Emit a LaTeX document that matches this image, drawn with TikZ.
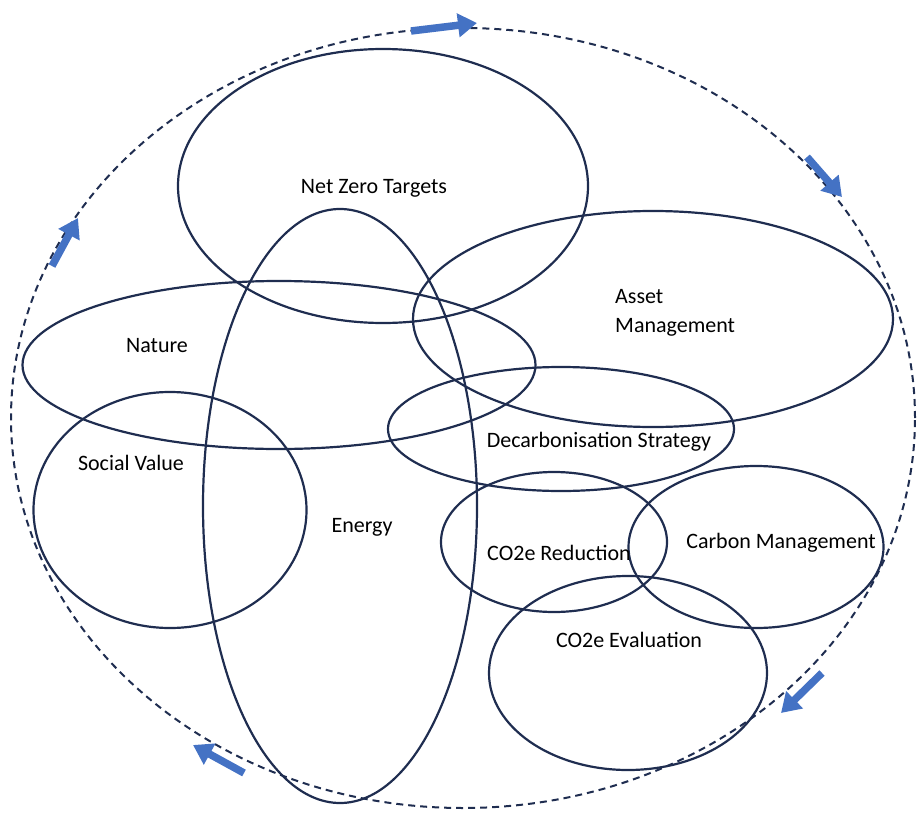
\documentclass[tikz,border=0pt]{standalone}
\usepackage{fontspec}
\setmainfont{Carlito}
\usetikzlibrary{shapes.geometric,arrows.meta}
\definecolor{navy}{HTML}{1F2D50}
\definecolor{arrowblue}{HTML}{4472C4}
\tikzset{
  ring/.style={draw=navy, line width=2.2pt, ellipse, inner sep=0pt},
  outer/.style={draw=navy, line width=2pt, ellipse, inner sep=0pt, dash pattern=on 7pt off 5pt},
  lbl/.style={font=\fontsize{22}{29}\selectfont, text=black, inner sep=0pt},
  flow/.style={draw=arrowblue, line width=7.5pt, -{Triangle[length=19pt,width=23pt]}}
}
\begin{document}
\begin{tikzpicture}[x=1pt,y=-1pt]
\useasboundingbox (0,0) rectangle (923,832);
% outer dashed cycle
\node[outer, minimum width=904pt, minimum height=780pt] (cycle) at (463,418) {};
% ellipses
\node[ring, minimum width=410pt, minimum height=274pt] (nzt) at (383,186) {};
\node[ring, minimum width=274pt, minimum height=594pt] (energy) at (340,506) {};
\node[ring, minimum width=480pt, minimum height=216pt] (asset) at (653,319) {};
\node[ring, minimum width=513pt, minimum height=168pt] (nature) at (279,365) {};
\node[ring, minimum width=346pt, minimum height=124pt] (decarb) at (561,429) {};
\node[ring, minimum width=273pt, minimum height=236pt] (social) at (170,510) {};
\node[ring, minimum width=226pt, minimum height=140pt] (co2red) at (554,542) {};
\node[ring, minimum width=255pt, minimum height=162pt] (carbon) at (756,547) {};
\node[ring, minimum width=278pt, minimum height=194pt] (co2eval) at (628,673) {};
% labels
\node[lbl] (tnzt) at (374,188) {Net Zero Targets};
\node[lbl, align=left, anchor=west] (tasset) at (615,313) {Asset\\Management};
\node[lbl] (tnature) at (157,346) {Nature};
\node[lbl] (tdecarb) at (599,442) {Decarbonisation Strategy};
\node[lbl] (tsocial) at (131,463) {Social Value};
\node[lbl] (tenergy) at (362,527) {Energy};
\node[lbl] (tco2red) at (559,553) {CO2e Reduction};
\node[lbl] (tcarbon) at (781,543) {Carbon Management};
\node[lbl] (tco2eval) at (629,640) {CO2e Evaluation};
% flow arrows
\coordinate (a1s) at (411,31); \coordinate (a1e) at (477,23);
\coordinate (a2s) at (807,157); \coordinate (a2e) at (842,197);
\coordinate (a3s) at (822,673); \coordinate (a3e) at (781,713);
\coordinate (a4s) at (244,773); \coordinate (a4e) at (193,745);
\coordinate (a5s) at (52,266); \coordinate (a5e) at (78,218);
\draw[flow] (a1s) -- (a1e);
\draw[flow] (a2s) -- (a2e);
\draw[flow] (a3s) -- (a3e);
\draw[flow] (a4s) -- (a4e);
\draw[flow] (a5s) -- (a5e);
\end{tikzpicture}
\end{document}
